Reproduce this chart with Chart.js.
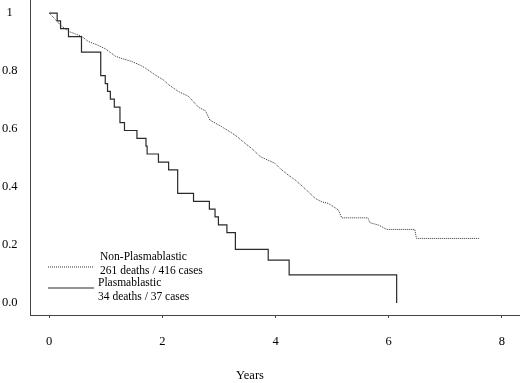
<!DOCTYPE html>
<html>
<head>
<meta charset="utf-8">
<script src="https://cdn.jsdelivr.net/npm/chart.js@4.4.0/dist/chart.umd.min.js"></script>
<style>
  html, body { margin: 0; padding: 0; background: #fff; }
  #wrap { width: 520px; height: 383px; }
</style>
</head>
<body>
<div id="wrap"><canvas id="kmChart"></canvas></div>
<script>
// Kaplan-Meier survival
const nonPlasmaYears = [0, 0.1, 0.2, 0.34, 0.57, 0.69, 0.85, 0.99, 1.17, 1.3, 1.46, 1.61, 1.7, 1.87, 2.02, 2.11, 2.28, 2.46, 2.64, 2.76, 2.84, 3.05, 3.2, 3.32, 3.46, 3.58, 3.73, 3.99, 4.08, 4.2, 4.35, 4.49, 4.6, 4.7, 4.82, 4.93, 5.02, 5.11, 5.17, 5.63, 5.67, 5.82, 5.97, 6.46, 6.49, 7.61];
const nonPlasmaSurvival = [1, 0.98, 0.958, 0.937, 0.92, 0.902, 0.89, 0.877, 0.851, 0.842, 0.833, 0.82, 0.81, 0.787, 0.769, 0.753, 0.73, 0.713, 0.675, 0.663, 0.631, 0.608, 0.59, 0.574, 0.551, 0.533, 0.505, 0.482, 0.464, 0.445, 0.424, 0.4, 0.38, 0.361, 0.349, 0.344, 0.333, 0.321, 0.294, 0.294, 0.277, 0.269, 0.254, 0.254, 0.223, 0.223];

const plasmaYears = [0, 0.14, 0.2, 0.34, 0.57, 0.91, 0.99, 1.03, 1.08, 1.15, 1.25, 1.33, 1.55, 1.71, 1.73, 1.93, 2.11, 2.27, 2.55, 2.83, 2.93, 2.99, 3.14, 3.29, 3.87, 4.24, 6.14];
const plasmaSurvival = [1, 0.973, 0.946, 0.919, 0.865, 0.784, 0.757, 0.73, 0.703, 0.676, 0.622, 0.595, 0.568, 0.541, 0.514, 0.486, 0.459, 0.378, 0.351, 0.324, 0.297, 0.27, 0.243, 0.185, 0.148, 0.097, 0];

const seriesNames = ["Non-Plasmablastic", "Plasmablastic"];
const seriesNotes = ["261 deaths / 416 cases", "34 deaths / 37 cases"];

const xTicks = [0, 2, 4, 6, 8];
const yTicks = [0, 0.2, 0.4, 0.6, 0.8, 1];
const yTickLabels = ["0.0", "0.2", "0.4", "0.6", "0.8", "1"];
const xTitle = "Years";

const serif = '"Liberation Serif", "Times New Roman", serif';
const inkColor = "#000";

function toPoints(xs, ys) {
  return xs.map((x, i) => ({ x: x, y: ys[i] }));
}

// legend inside the plot (bottom left) and the x caption, placed like the original
const kmLegend = {
  id: "kmLegend",
  afterDraw(chart) {
    const ctx = chart.ctx;
    const rows = [
      { ds: 0, lineY: 267, textX: 100, textY: 257 },
      { ds: 1, lineY: 288, textX: 98, textY: 283 }
    ];
    ctx.save();
    rows.forEach(r => {
      const ds = chart.data.datasets[r.ds];
      ctx.beginPath();
      ctx.strokeStyle = ds.borderColor;
      ctx.lineWidth = ds.borderWidth;
      ctx.setLineDash(ds.borderDash || []);
      ctx.moveTo(48, r.lineY);
      ctx.lineTo(94, r.lineY);
      ctx.stroke();
      ctx.setLineDash([]);
      ctx.font = "11.5px " + serif;
      ctx.fillStyle = inkColor;
      ctx.textBaseline = "middle";
      ctx.textAlign = "left";
      ctx.fillText(seriesNames[r.ds], r.textX, r.textY);
      ctx.fillText(seriesNotes[r.ds], r.textX, r.textY + 13.5);
    });
    ctx.font = "12.5px " + serif;
    ctx.textAlign = "center";
    ctx.fillText(xTitle, 250, 376);
    ctx.restore();
  }
};

new Chart(document.getElementById("kmChart"), {
  type: "line",
  data: {
    datasets: [
      {
        label: seriesNames[0],
        data: toPoints(nonPlasmaYears, nonPlasmaSurvival),
        borderColor: "#333",
        borderWidth: 1,
        borderDash: [1, 1],
        pointRadius: 0,
        fill: false,
        tension: 0
      },
      {
        label: seriesNames[1],
        data: toPoints(plasmaYears, plasmaSurvival),
        borderColor: "#2a2a2a",
        borderWidth: 1.2,
        stepped: "before",
        pointRadius: 0,
        fill: false
      }
    ]
  },
  options: {
    responsive: true,
    maintainAspectRatio: false,
    animation: false,
    layout: { padding: 0 },
    plugins: {
      legend: { display: false },
      tooltip: { enabled: false }
    },
    scales: {
      x: {
        type: "linear",
        min: -0.34,
        max: 8.32,
        afterBuildTicks: s => { s.ticks = xTicks.map(v => ({ value: v })); },
        afterFit: s => {
          s.height = 68;
          s.paddingLeft = 0;
          s.paddingRight = 0;
        },
        grid: { drawOnChartArea: false, drawTicks: true, tickLength: 3, color: "#444" },
        border: { display: true, color: "#444", width: 1 },
        ticks: {
          padding: 16,
          maxRotation: 0,
          color: inkColor,
          font: { family: serif, size: 12.5 },
          callback: v => String(v)
        }
      },
      y: {
        min: -0.041,
        max: 1.045,
        afterBuildTicks: s => { s.ticks = yTicks.map(v => ({ value: v })); },
        afterFit: s => {
          s.width = 30;
          s.paddingTop = 0;
          s.paddingBottom = 0;
        },
        grid: { display: false },
        border: { display: true, color: "#444", width: 1 },
        ticks: {
          crossAlign: "center",
          padding: 4.5,
          color: inkColor,
          font: { family: serif, size: 12.5 },
          callback: (v, i) => yTickLabels[i]
        }
      }
    }
  },
  plugins: [kmLegend]
});
</script>
</body>
</html>
